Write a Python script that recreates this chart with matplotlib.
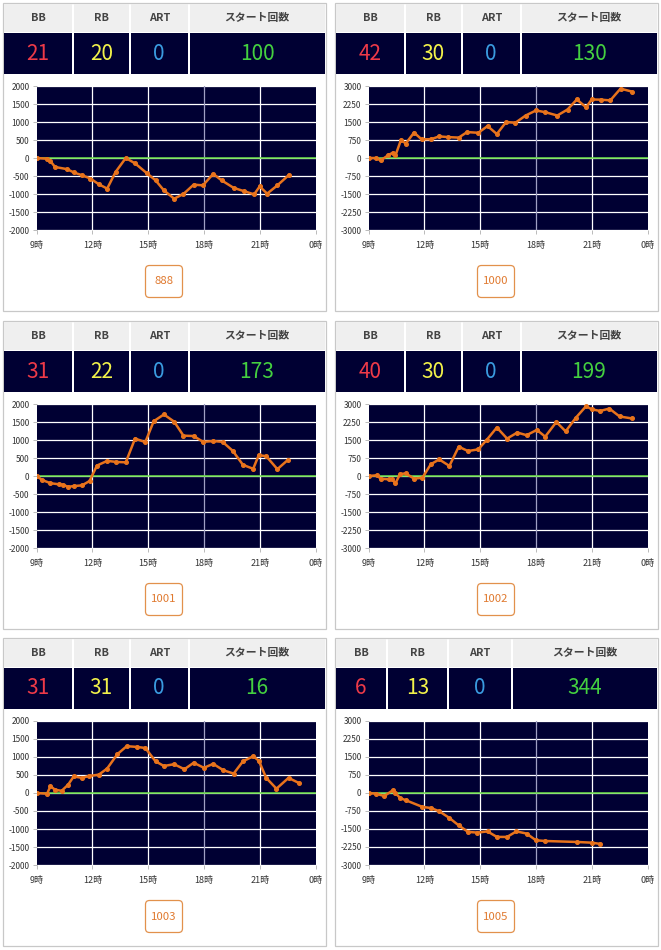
import matplotlib.pyplot as plt
from matplotlib.patches import Rectangle, FancyBboxPatch

plt.rcParams['font.family'] = ['Noto Sans CJK JP', 'DejaVu Sans']

W, H = 661, 950

# header table
headers = ['BB', 'RB', 'ART', 'スタート回数']
bb = [21, 42, 31, 40, 31, 6]
rb = [20, 30, 22, 30, 31, 13]
art = [0, 0, 0, 0, 0, 0]
starts = [100, 130, 173, 199, 16, 344]
machine_no = ['888', '1000', '1001', '1002', '1003', '1005']
ymax = [2000, 3000, 2000, 3000, 2000, 3000]

# hour of day / coin difference, one pair per machine
hours1 = [9.0, 9.57, 9.75, 10.0, 10.65, 11.0, 11.45, 11.9, 12.35, 12.8, 13.25, 13.8, 14.3,
          14.95, 15.4, 15.85, 16.4, 16.9, 17.45, 17.95, 18.5, 18.95, 19.6, 20.15, 20.7,
          21.0, 21.4, 21.95, 22.55]
diff1 = [0, -20, -90, -250, -310, -400, -480, -570, -730, -850, -390, 0, -150,
         -430, -620, -900, -1130, -1000, -740, -760, -440, -620, -830, -920, -1010,
         -790, -990, -760, -480]

hours2 = [9.0, 9.4, 9.65, 10.05, 10.3, 10.45, 10.75, 11.0, 11.45, 11.85, 12.35, 12.8, 13.3,
          13.85, 14.3, 14.9, 15.4, 15.9, 16.4, 16.9, 17.45, 18.0, 18.5, 19.15, 19.7, 20.2,
          20.7, 21.0, 21.5, 22.0, 22.55, 23.15]
diff2 = [0, 0, -100, 110, 220, 110, 760, 600, 1060, 780, 780, 900, 870,
         850, 1080, 1050, 1330, 1000, 1500, 1470, 1770, 1980, 1910, 1770, 2020, 2440,
         2110, 2440, 2430, 2400, 2890, 2770]

hours3 = [9.0, 9.3, 9.75, 10.2, 10.4, 10.7, 11.0, 11.45, 11.85, 12.25, 12.8, 13.3, 13.8,
          14.3, 14.85, 15.3, 15.85, 16.4, 16.9, 17.45, 17.95, 18.5, 19.0, 19.55, 20.1,
          20.65, 20.95, 21.35, 21.95, 22.5]
diff3 = [0, -110, -200, -230, -240, -300, -280, -260, -140, 290, 420, 390, 380,
         1040, 940, 1520, 1710, 1510, 1120, 1110, 950, 970, 950, 700, 310,
         200, 580, 550, 190, 440]

hours4 = [9.0, 9.45, 9.65, 10.1, 10.25, 10.45, 10.7, 11.0, 11.45, 11.9, 12.35, 12.8, 13.35,
          13.85, 14.35, 14.9, 15.35, 15.9, 16.45, 17.0, 17.5, 18.05, 18.5, 19.1, 19.6,
          20.15, 20.7, 21.0, 21.45, 21.95, 22.5, 23.15]
diff4 = [0, 30, -110, -140, -140, -300, 80, 110, -110, -70, 490, 690, 420,
         1220, 1040, 1110, 1500, 2020, 1560, 1810, 1700, 1920, 1640, 2250, 1860,
         2430, 2910, 2780, 2710, 2810, 2480, 2400]

hours5 = [9.0, 9.57, 9.75, 10.0, 10.35, 10.7, 11.0, 11.45, 11.8, 12.35, 12.8, 13.35, 13.85,
          14.4, 14.85, 15.4, 15.85, 16.4, 16.95, 17.45, 18.0, 18.5, 19.05, 19.6, 20.1,
          20.65, 20.95, 21.35, 21.9, 22.55, 23.1]
diff5 = [0, -20, 190, 90, 60, 230, 460, 420, 470, 510, 680, 1080, 1300,
         1280, 1250, 880, 750, 800, 660, 840, 700, 810, 630, 540, 880,
         1020, 900, 420, 120, 420, 280]

hours6 = [9.0, 9.4, 9.85, 10.3, 10.45, 10.7, 11.0, 11.9, 12.35, 12.8, 13.35, 13.85, 14.35,
          14.85, 15.4, 15.9, 16.45, 16.95, 17.5, 18.0, 18.5, 20.2, 21.0, 21.45]
diff6 = [0, -30, -125, 110, 0, -210, -300, -580, -625, -760, -1040, -1350, -1620,
         -1650, -1600, -1830, -1830, -1600, -1690, -1970, -2000, -2040, -2070, -2120]

hours = [hours1, hours2, hours3, hours4, hours5, hours6]
diffs = [diff1, diff2, diff3, diff4, diff5, diff6]

xticks = [9, 12, 15, 18, 21, 24]
xlabels = ['9時', '12時', '15時', '18時', '21時', '0時']

num_colors = ['#ee3a48', '#f2f24a', '#3a9be0', '#44d040']
navy = '#000033'

panel_x = [3, 335]
panel_y = [3, 321, 638]
PW, PH = 322, 307
cols_default = [0, 69.5, 126.5, 185.5, 322]
cols_last = [0, 51.5, 112.5, 176.5, 322]

fig = plt.figure(figsize=(W / 100, H / 100), dpi=100)
bg = fig.add_axes([0, 0, 1, 1])
bg.set_xlim(0, W)
bg.set_ylim(H, 0)
bg.axis('off')

for k in range(6):
    px = panel_x[k % 2]
    py = panel_y[k // 2]
    # panel frame
    bg.add_patch(Rectangle((px - 0.5, py - 0.5), PW + 1, PH + 1, fc='white', ec='#c8c8c8', lw=0.9))

    cols = cols_last if k == 5 else cols_default
    vals = [bb[k], rb[k], art[k], starts[k]]
    for c in range(4):
        x0 = px + cols[c] + 1
        x1 = px + cols[c + 1] - 0.5
        bg.add_patch(Rectangle((x0, py + 0.5), x1 - x0, 28.5, fc='#efefef', ec='none'))
        bg.add_patch(Rectangle((x0, py + 29.5), x1 - x0, 41, fc=navy, ec='none'))
        xc = (x0 + x1) / 2
        bg.text(xc, py + 15, headers[c], ha='center', va='center', fontsize=7.8,
                color='#444444', fontweight='bold')
        bg.text(xc, py + 50.5, str(vals[c]), ha='center', va='center', fontsize=15,
                color=num_colors[c])

    # machine number button
    bx = px + 161
    bg.add_patch(FancyBboxPatch((bx - 17, py + 264), 34, 29,
                                boxstyle='round,pad=1.5,rounding_size=4',
                                fc='white', ec='#e2914c', lw=0.9))
    bg.text(bx, py + 278.5, machine_no[k], ha='center', va='center', fontsize=8.2,
            color='#e07a30')

    # chart
    ax_l = px + 33.5
    ax_t = py + 83
    ax = fig.add_axes([ax_l / W, 1 - (ax_t + 144) / H, 279 / W, 144 / H])
    ax.set_facecolor(navy)
    m = ymax[k]
    step = m / 4
    yt = [m - i * step for i in range(9)]
    ax.set_xlim(9, 24)
    ax.set_ylim(-m, m)
    ax.set_yticks(yt)
    ax.set_yticklabels([str(int(v)) for v in yt])
    ax.set_xticks(xticks)
    ax.set_xticklabels(xlabels)
    for v in yt:
        ax.axhline(v, color='white', lw=0.9, zorder=1)
    for t in xticks[1:-1]:
        ax.axvline(t, color='#a0a0c4' if t == 18 else 'white', lw=0.9, zorder=1)
    ax.axhline(0, color='#66dd44', lw=1.1, zorder=2)
    ax.plot(hours[k], diffs[k], color='#e8731c', lw=1.8, marker='o', ms=2.6, zorder=3)
    for s in ax.spines.values():
        s.set_visible(False)
    ax.tick_params(axis='both', length=3, width=0.6, color='#b0b0b0',
                   labelsize=6, labelcolor='#333333', pad=2)
    ax.tick_params(axis='x', pad=5, labelsize=6.5)

fig.savefig('out.png', dpi=100)
